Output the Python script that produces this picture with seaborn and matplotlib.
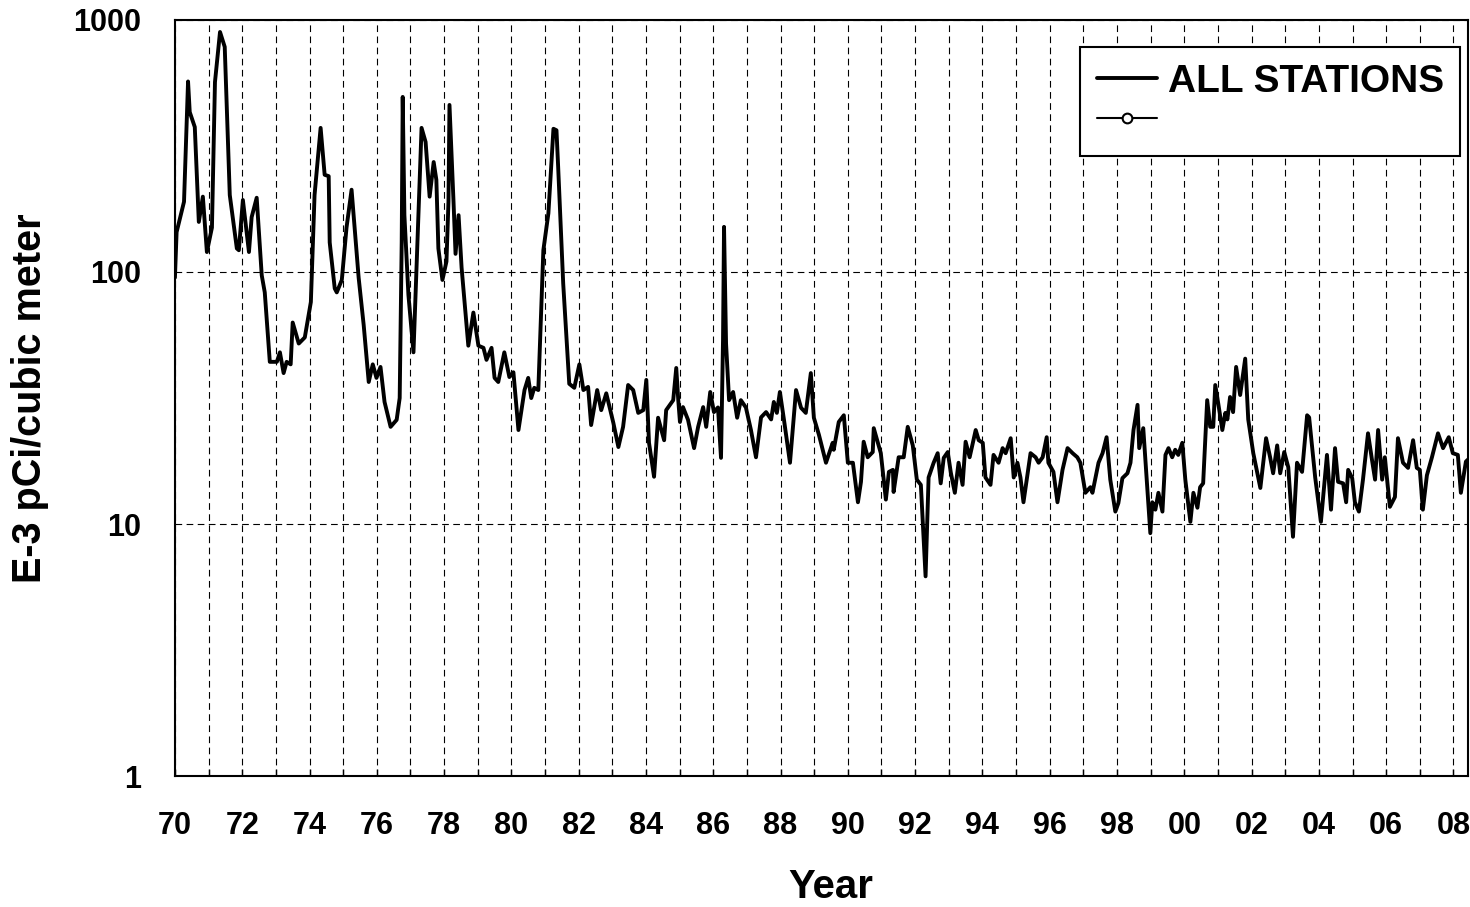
import numpy as np
import pandas as pd
import matplotlib
matplotlib.use("Agg")
import matplotlib.pyplot as plt
import seaborn as sns
from matplotlib.lines import Line2D
from matplotlib.ticker import NullLocator

# -----------------------------------------------------------------------------
# data (decimal year, E-3 pCi per cubic meter)
# -----------------------------------------------------------------------------
years = [
    1970.00, 1970.05, 1970.27, 1970.39, 1970.44, 1970.59, 1970.71, 1970.83, 1970.95,
    1971.10, 1971.19, 1971.34, 1971.48, 1971.63, 1971.84, 1971.90, 1972.02, 1972.20,
    1972.28, 1972.43, 1972.58, 1972.67, 1972.82, 1973.03, 1973.12, 1973.23, 1973.32,
    1973.44, 1973.50, 1973.68, 1973.86, 1974.04, 1974.15, 1974.33, 1974.45, 1974.57,
    1974.60, 1974.75, 1974.81, 1974.96, 1975.10, 1975.25, 1975.31, 1975.46, 1975.61,
    1975.76, 1975.88, 1975.99, 1976.11, 1976.23, 1976.41, 1976.59, 1976.68, 1976.74,
    1976.77, 1976.82, 1976.94, 1977.09, 1977.33, 1977.45, 1977.57, 1977.69, 1977.77,
    1977.83, 1977.95, 1978.07, 1978.13, 1978.16, 1978.28, 1978.34, 1978.43, 1978.52,
    1978.72, 1978.87, 1979.02, 1979.17, 1979.26, 1979.41, 1979.50, 1979.61, 1979.79,
    1979.94, 1980.06, 1980.21, 1980.39, 1980.50, 1980.59, 1980.68, 1980.80, 1980.95,
    1981.10, 1981.25, 1981.34, 1981.39, 1981.54, 1981.72, 1981.87, 1982.02, 1982.14,
    1982.28, 1982.37, 1982.55, 1982.67, 1982.82, 1983.03, 1983.18, 1983.32, 1983.47,
    1983.62, 1983.77, 1983.92, 1984.01, 1984.09, 1984.24, 1984.36, 1984.54, 1984.60,
    1984.81, 1984.90, 1984.96, 1985.01, 1985.10, 1985.25, 1985.43, 1985.55, 1985.70,
    1985.79, 1985.91, 1986.02, 1986.14, 1986.23, 1986.29, 1986.32, 1986.38, 1986.47,
    1986.59, 1986.71, 1986.82, 1986.97, 1987.12, 1987.27, 1987.42, 1987.57, 1987.72,
    1987.80, 1987.89, 1987.98, 1988.10, 1988.28, 1988.46, 1988.61, 1988.75, 1988.90,
    1988.99, 1989.14, 1989.35, 1989.55, 1989.58, 1989.73, 1989.88, 1990.00, 1990.15,
    1990.30, 1990.39, 1990.47, 1990.59, 1990.74, 1990.77, 1990.98, 1991.13, 1991.22,
    1991.34, 1991.36, 1991.51, 1991.66, 1991.78, 1991.93, 1992.05, 1992.17, 1992.31,
    1992.40, 1992.55, 1992.67, 1992.76, 1992.85, 1992.97, 1993.06, 1993.18, 1993.29,
    1993.41, 1993.50, 1993.62, 1993.80, 1993.89, 1994.01, 1994.09, 1994.24, 1994.33,
    1994.48, 1994.60, 1994.69, 1994.84, 1994.93, 1995.04, 1995.13, 1995.22, 1995.43,
    1995.58, 1995.67, 1995.79, 1995.91, 1995.96, 1996.11, 1996.23, 1996.38, 1996.53,
    1996.68, 1996.82, 1996.91, 1997.06, 1997.21, 1997.27, 1997.45, 1997.57, 1997.69,
    1997.80, 1997.95, 1998.04, 1998.16, 1998.31, 1998.40, 1998.49, 1998.61, 1998.66,
    1998.78, 1998.99, 1999.05, 1999.14, 1999.23, 1999.35, 1999.44, 1999.53, 1999.64,
    1999.73, 1999.82, 1999.94, 2000.03, 2000.18, 2000.27, 2000.39, 2000.47, 2000.56,
    2000.68, 2000.77, 2000.86, 2000.92, 2001.01, 2001.13, 2001.22, 2001.28, 2001.36,
    2001.45, 2001.54, 2001.66, 2001.81, 2001.90, 2002.05, 2002.26, 2002.43, 2002.55,
    2002.64, 2002.76, 2002.85, 2002.97, 2003.09, 2003.23, 2003.35, 2003.50, 2003.65,
    2003.71, 2003.89, 2004.06, 2004.24, 2004.36, 2004.48, 2004.57, 2004.72, 2004.81,
    2004.87, 2004.99, 2005.07, 2005.19, 2005.31, 2005.46, 2005.58, 2005.67, 2005.76,
    2005.88, 2005.96, 2006.11, 2006.26, 2006.35, 2006.50, 2006.65, 2006.80, 2006.91,
    2007.00, 2007.09, 2007.21, 2007.36, 2007.54, 2007.69, 2007.86, 2007.98, 2008.13,
    2008.22, 2008.37, 2008.49,
]
conc = [
    95, 144, 190, 570, 431, 376, 158, 199, 120,
    150, 567, 896, 782, 202, 124, 122, 193, 120,
    165, 197, 97, 83, 44, 44, 48, 39.7, 44,
    43, 63, 52, 55, 76, 202, 373, 243, 240,
    131, 86, 83, 93, 150, 212, 168, 95, 61.6,
    36.6, 43, 38, 42, 30.5, 24.3, 25.9, 31.6, 131,
    495, 168, 81, 48, 373, 328, 199, 273, 232,
    124, 93, 110, 190, 460, 190, 118, 168, 104,
    51, 69, 51, 50, 44.8, 50, 38, 36.6, 48,
    38.3, 40, 23.6, 34, 38, 31.6, 34.7, 34, 122,
    171, 370, 365, 261, 90, 36, 34.7, 43, 34,
    35, 24.7, 34, 28.3, 33, 25.2, 20.2, 24.3, 35.6,
    34, 27.6, 28.3, 37.3, 21, 15.4, 26.4, 21.5, 28.3,
    31, 41.6, 31, 25.4, 29.1, 25.9, 20, 24.3, 29.1,
    24.3, 33.4, 27.8, 29, 18.3, 53.7, 151, 52, 31,
    33.4, 26.4, 31, 29, 23.6, 18.4, 26.5, 27.8, 26,
    30.5, 27.6, 33.4, 26, 17.5, 34, 28.9, 27.6, 39.7,
    26.4, 22.6, 17.5, 21, 19.7, 25.4, 27, 17.5, 17.5,
    12.2, 14.7, 21.2, 18.4, 19.3, 24, 19.1, 12.5, 16.1,
    16.4, 13.4, 18.4, 18.4, 24.3, 20.5, 15, 14.3, 6.2,
    15.3, 17.5, 19.1, 14.5, 18.3, 19.3, 16, 13.3, 17.5,
    14.3, 21.2, 18.4, 23.6, 21.5, 21, 15.3, 14.3, 18.8,
    17.5, 20, 19.1, 21.9, 15.3, 17.5, 15.3, 12.2, 19.1,
    18.4, 17.5, 18.4, 22.1, 17.5, 16.1, 12.2, 16.4, 20,
    19.1, 18.4, 17.5, 13.3, 14, 13.3, 17.5, 19.1, 22.1,
    15, 11.2, 12.1, 15.2, 15.9, 17.5, 23.6, 29.7, 20,
    24, 9.2, 12.2, 11.4, 13.3, 11.2, 18.8, 20, 18.4,
    19.7, 18.8, 21, 15, 10.2, 13.3, 11.6, 14, 14.5,
    31, 24.3, 24.3, 35.6, 30, 23.6, 27.6, 26, 31.9,
    27.8, 42, 32.5, 45.3, 26, 19.1, 13.9, 21.9, 18.4,
    15.9, 20.5, 15.9, 19.3, 16.8, 8.9, 17.5, 16.1, 27,
    26.5, 15.3, 10.2, 18.8, 11.4, 20, 14.7, 14.5, 12.2,
    16.4, 15.2, 12.2, 11.2, 15, 22.9, 17.9, 15, 23.6,
    15, 18.4, 11.7, 12.8, 21.9, 17.5, 16.7, 21.5, 16.7,
    16.4, 11.4, 15.6, 18.4, 22.9, 20, 22.1, 19.1, 18.8,
    13.3, 17.7, 18.3,
]

tick_years = list(range(1970, 2009, 2))
tick_labels = [f"{y % 100:02d}" for y in tick_years]
all_years = list(range(1970, 2009))
y_ticks = [1, 10, 100, 1000]
y_tick_labels = ["1", "10", "100", "1000"]
series_names = ["ALL STATIONS", ""]

df = pd.DataFrame({"year": years, "conc": conc})

# -----------------------------------------------------------------------------
# plot
# -----------------------------------------------------------------------------
sns.set_theme(style="white")
plt.rcParams['font.family'] = ['Liberation Sans', 'DejaVu Sans']
plt.rcParams['font.weight'] = 'bold'
plt.rcParams['text.color'] = 'black'
plt.rcParams['axes.labelcolor'] = 'black'
plt.rcParams['xtick.color'] = 'black'
plt.rcParams['ytick.color'] = 'black'

fig = plt.figure(figsize=(14.7, 9.07), dpi=100)
ax = fig.add_axes([0.119, 0.1444, 0.8796, 0.8336])

sns.lineplot(data=df, x="year", y="conc", color="black", linewidth=2.8,
             estimator=None, legend=False, ax=ax)

ax.set_yscale("log")
ax.set_ylim(1, 1000)
ax.set_xlim(1970, 2008.43)

ax.set_xticks(tick_years, labels=tick_labels)
ax.set_xticks(all_years, minor=True)
ax.set_yticks(y_ticks, labels=y_tick_labels)
ax.yaxis.set_minor_locator(NullLocator())

dash = (0, (6, 4))
ax.grid(axis="x", which="both", color="black", linestyle=dash, linewidth=0.8)
ax.grid(axis="y", which="major", color="black", linestyle=dash, linewidth=0.8)

ax.tick_params(axis="x", which="both", direction="in", length=5, width=1,
               color="black", bottom=True, pad=25, labelsize=22)
ax.tick_params(axis="y", which="both", length=0, pad=24, labelsize=22)
for lab in ax.get_xticklabels() + ax.get_yticklabels():
    lab.set_fontweight("bold")

for sp in ax.spines.values():
    sp.set_color("black")
    sp.set_linewidth(1.5)

ax.set_xlabel("Year", fontsize=29, fontweight="bold")
ax.xaxis.set_label_coords(0.507, -0.122)
ax.set_ylabel("E-3 pCi/cubic meter", fontsize=28.5, fontweight="bold", labelpad=18)

handles = [
    Line2D([], [], color="black", linewidth=2.8),
    Line2D([], [], color="black", linewidth=1.5, marker="o", markersize=7,
           markerfacecolor="white", markeredgewidth=1.5),
]
leg = ax.legend(handles, series_names, loc="upper right",
                bbox_to_anchor=(0.994, 0.964), fontsize=28, frameon=True,
                fancybox=False, edgecolor="black", framealpha=1,
                handlelength=1.55, handletextpad=0.28, borderpad=0.42,
                labelspacing=0.1, borderaxespad=0)
leg.get_frame().set_linewidth(1.5)
for t in leg.get_texts():
    t.set_fontweight("bold")

plt.savefig("out.png", dpi=100)
